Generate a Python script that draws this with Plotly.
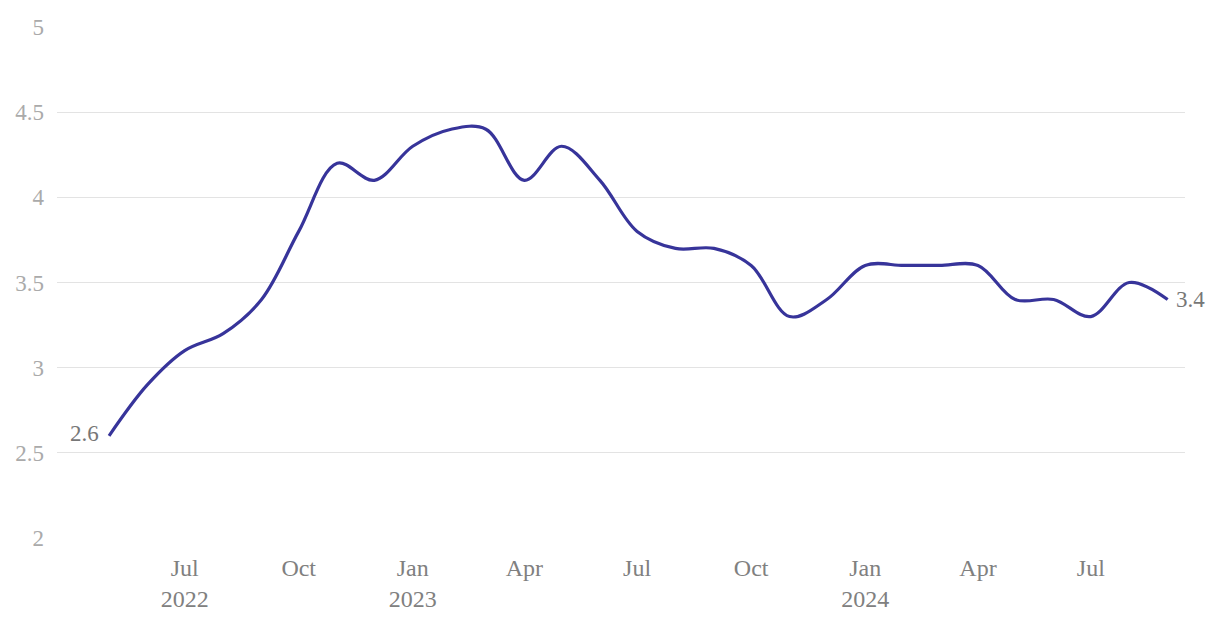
import plotly.graph_objects as go

dates = ["2022-05-01", "2022-06-01", "2022-07-01", "2022-08-01", "2022-09-01", "2022-10-01",
         "2022-11-01", "2022-12-01", "2023-01-01", "2023-02-01", "2023-03-01", "2023-04-01",
         "2023-05-01", "2023-06-01", "2023-07-01", "2023-08-01", "2023-09-01", "2023-10-01",
         "2023-11-01", "2023-12-01", "2024-01-01", "2024-02-01", "2024-03-01", "2024-04-01",
         "2024-05-01", "2024-06-01", "2024-07-01", "2024-08-01", "2024-09-01"]
values = [2.6, 2.9, 3.1, 3.2, 3.4, 3.8,
          4.2, 4.1, 4.3, 4.4, 4.4, 4.1,
          4.3, 4.1, 3.8, 3.7, 3.7, 3.6,
          3.3, 3.4, 3.6, 3.6, 3.6, 3.6,
          3.4, 3.4, 3.3, 3.5, 3.4]
y_ticks = [2, 2.5, 3, 3.5, 4, 4.5, 5]
x_tickvals = ["2022-07-01", "2022-10-01", "2023-01-01", "2023-04-01", "2023-07-01",
              "2023-10-01", "2024-01-01", "2024-04-01", "2024-07-01"]
x_ticktext = ["Jul<br>2022", "Oct", "Jan<br>2023", "Apr", "Jul",
              "Oct", "Jan<br>2024", "Apr", "Jul"]

FONT = "Liberation Serif, DejaVu Serif, serif"
LINE = "#37349a"

fig = go.Figure()
fig.add_trace(go.Scatter(
    x=dates, y=values, mode="lines",
    line=dict(color=LINE, width=3.2, shape="spline", smoothing=1),
    hoverinfo="x+y", showlegend=False,
))

fig.add_annotation(x=dates[0], y=values[0], text=f"{values[0]:.1f}", showarrow=False,
                   xanchor="right", xshift=-8, yshift=2,
                   font=dict(family=FONT, size=23, color="#777777"))
fig.add_annotation(x=dates[-1], y=values[-1], text=f"{values[-1]:.1f}", showarrow=False,
                   xanchor="left", xshift=6, yshift=0,
                   font=dict(family=FONT, size=23, color="#777777"))

fig.update_layout(
    width=1212, height=618,
    margin=dict(l=49, r=35, t=19, b=88, autoexpand=False),
    paper_bgcolor="white", plot_bgcolor="white",
    font=dict(family=FONT, size=23, color="#999999"),
    xaxis=dict(
        type="date", range=["2022-03-20", "2024-09-15"],
        tickvals=x_tickvals, ticktext=x_ticktext,
        showgrid=False, zeroline=False, showline=False,
        ticks="", ticklabelstandoff=13, automargin=False,
        tickfont=dict(family=FONT, size=24, color="#808080"),
    ),
    yaxis=dict(
        range=[2, 5], tickvals=y_ticks, ticktext=[f"{v:g}" for v in y_ticks],
        showgrid=True, gridcolor="#e3e3e3", gridwidth=1,
        zeroline=False, showline=False, ticks="",
        ticklabelstandoff=12, automargin=False,
        tickfont=dict(family=FONT, size=23, color="#aaaaaa"),
    ),
)

fig.write_html("out.html")
